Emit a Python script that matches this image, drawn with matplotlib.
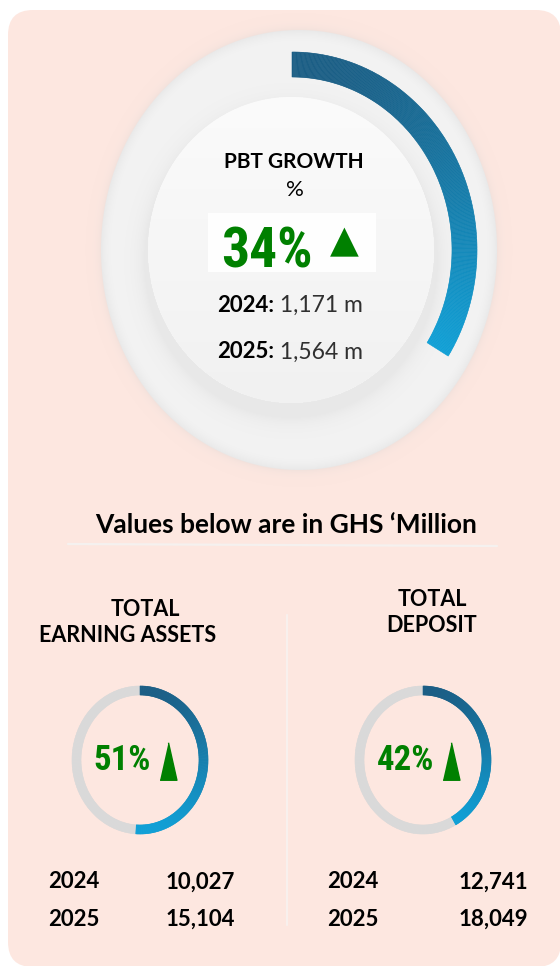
#KPI growth card - PBT growth plus two small gauge rings

import numpy as np
import matplotlib.pyplot as plt
from matplotlib.patches import FancyBboxPatch, Rectangle
from matplotlib.collections import PolyCollection
from matplotlib.colors import to_rgb

plt.rcParams['font.family'] = ['Lato', 'DejaVu Sans']

# data
pbt_title = 'PBT GROWTH'
pbt_pct = 34
pbt_years = ['2024', '2025']
pbt_values = [1171, 1564]

subtitle = 'Values below are in GHS \u2018Million'

kpi_titles = [['TOTAL', 'EARNING ASSETS'], ['TOTAL', 'DEPOSIT']]
kpi_pct = [51, 42]
kpi_2024 = [10027, 12741]
kpi_2025 = [15104, 18049]
years = ['2024', '2025']

BG = '#FDE7E0'
DARK = '#1B5E85'
LIGHT = '#10A0D6'
GREEN = '#008000'
NARROW = ['Roboto Condensed', 'DejaVu Sans']


def ring_polys(cx, cy, rx, ry, width, frac, n=300):
    # clockwise from 12 o'clock, y axis points down
    th = np.radians(90 - 360 * frac * np.linspace(0, 1, n + 1))
    polys = []
    for a0, a1 in zip(th[:-1], th[1:]):
        polys.append([(cx + rx * np.cos(a0), cy - ry * np.sin(a0)),
                      (cx + rx * np.cos(a1), cy - ry * np.sin(a1)),
                      (cx + (rx - width) * np.cos(a1), cy - (ry - width) * np.sin(a1)),
                      (cx + (rx - width) * np.cos(a0), cy - (ry - width) * np.sin(a0))])
    return polys


def gradient_arc(ax, cx, cy, rx, ry, width, pct, z=3):
    polys = ring_polys(cx, cy, rx, ry, width, pct / 100)
    ys = np.array([np.mean([p[1] for p in poly]) for poly in polys])
    t = (ys - ys.min()) / max(ys.max() - ys.min(), 1)
    c0, c1 = np.array(to_rgb(DARK)), np.array(to_rgb(LIGHT))
    cols = [tuple(c0 + (c1 - c0) * v) for v in t]
    ax.add_collection(PolyCollection(polys, facecolors=cols, edgecolors=cols,
                                     linewidths=0.4, zorder=z))


fig = plt.figure(figsize=(5.6, 9.66), dpi=100)
ax = fig.add_axes([0, 0, 1, 1])
ax.set_xlim(0, 560)
ax.set_ylim(966, 0)
ax.axis('off')

# card background
ax.add_patch(FancyBboxPatch((33, 35), 503, 907, boxstyle='round,pad=25',
                            fc=BG, ec='none', zorder=0))

# big soft disc with inner raised disc (shading only)
gx, gy = np.meshgrid(np.arange(80, 521) + 0.5, np.arange(10, 496) + 0.5)
ro = np.hypot((gx - 299) / 198, (gy - 250) / 220)
ri = np.hypot((gx - 291) / 143, (gy - 250) / 153)
ri_sh = np.hypot((gx - 291) / 146, (gy - 261) / 156)

sm = np.clip((ro - 0.93) / 0.07, 0, 1)
outer_gray = 243 - 10 * sm * sm
shade = np.where(ri > 1, 11 * np.exp(-np.clip((ri_sh - 1) * 150, 0, None) / 9), 0)
inner_cov = np.clip((1 - ri) * 148 + 0.5, 0, 1)
inner_gray = 251 - 10 * np.clip((gy - 97) / 306, 0, 1)
gray = inner_cov * inner_gray + (1 - inner_cov) * (outer_gray - shade)
outer_cov = np.clip((1 - ro) * 205 + 0.5, 0, 1)
sh_a = 0.22 * np.exp(-np.clip((ro - 1) * 205, 0, None) / 4)
alpha = outer_cov + (1 - outer_cov) * sh_a
col = (outer_cov * gray + (1 - outer_cov) * sh_a * 205) / np.maximum(alpha, 1e-6)
img = np.dstack([col / 255, col / 255, col / 255, alpha])
ax.imshow(img, extent=(80, 521, 496, 10), aspect='auto', interpolation='bilinear', zorder=1)

gradient_arc(ax, 292, 250, 185, 198, 25, pbt_pct)

# centre text
ax.text(294, 162, pbt_title, ha='center', va='center', fontsize=15, fontweight='bold', zorder=5)
ax.text(295, 190, '%', ha='center', va='center', fontsize=16, zorder=5)
ax.add_patch(Rectangle((208, 213), 168, 59, fc='#FEFEFE', ec='none', zorder=4))
ax.text(221, 268, f'{pbt_pct}%', ha='left', va='baseline', fontsize=40,
        fontweight='bold', fontstretch='condensed', color=GREEN, family=NARROW, zorder=5)
ax.text(344, 242, '\u25B2', ha='center', va='center', fontsize=27, color=GREEN,
        family=['DejaVu Sans'], zorder=5)
for i, (yr, val) in enumerate(zip(pbt_years, pbt_values)):
    t1 = ax.text(217, 305 + i * 47, f'{yr}:', ha='left', va='center', fontsize=16,
                 fontweight='bold', zorder=5)
    ax.annotate(f' {val:,} m', xy=(1, 0.5), xycoords=t1, ha='left', va='center',
                fontsize=16.5, fontweight='normal', color='#303030', zorder=5)

# subtitle + separator
ax.text(286, 525, subtitle, ha='center', va='center', fontsize=19, fontweight='bold')
ax.plot([68, 497], [544, 546], color='#F5F1EF', lw=1.6, solid_capstyle='round', zorder=2)
ax.plot([287, 287], [615, 925], color='#F7F2F0', lw=1.2, zorder=2)

# small gauges
centers = [(140, 760), (423, 760)]
title_pos = [[(145, 609), (128, 635)], [(432, 600), (432, 625)]]
year_x = [48, 327]
value_x = [235, 528]
row_y = [882, 919]
tri = [(-0.45, -1), (0.45, -1), (0, 1)]

for k in range(2):
    cx, cy = centers[k]
    for line, (tx, ty) in zip(kpi_titles[k], title_pos[k]):
        ax.text(tx, ty, line, ha='center', va='center', fontsize=15.5, fontweight='bold')
    grey = ring_polys(cx, cy, 68, 74, 9, 1.0)
    ax.add_collection(PolyCollection(grey, facecolors='#D9D9D9', edgecolors='#D9D9D9',
                                     linewidths=0.4, zorder=2))
    gradient_arc(ax, cx, cy, 68, 74, 9, kpi_pct[k])
    ax.text(cx + 11, cy + 1, f'{kpi_pct[k]}%', ha='right', va='center', fontsize=25,
            fontweight='bold', fontstretch='condensed', color=GREEN, family=NARROW, zorder=5)
    ax.plot(cx + 28, cy + 1, marker=tri, markersize=27, color=GREEN, zorder=5)
    vals = [kpi_2024[k], kpi_2025[k]]
    for yr, v, y in zip(years, vals, row_y):
        ax.text(year_x[k], y, yr, ha='left', va='center', fontsize=16, fontweight='bold')
        ax.text(value_x[k], y, f'{v:,}', ha='right', va='center', fontsize=16, fontweight='bold')

fig.savefig('out.png', dpi=100, facecolor='white')
